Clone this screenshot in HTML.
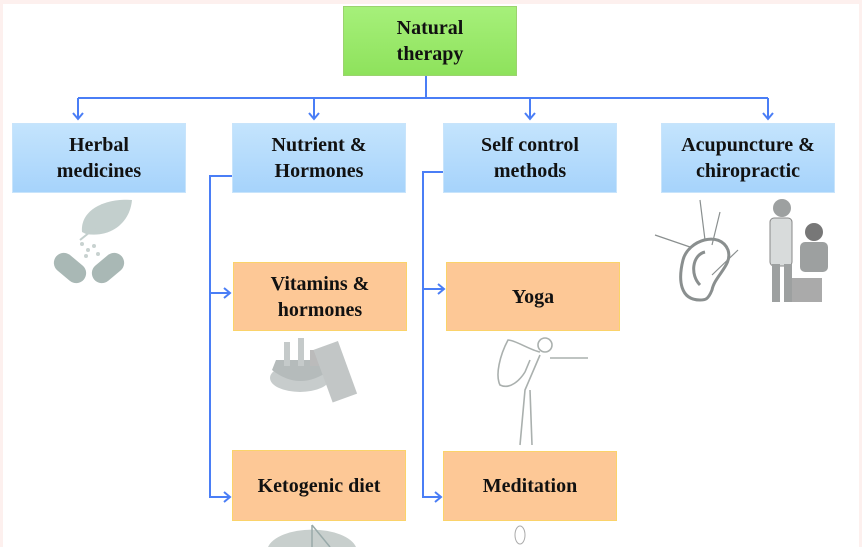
<!DOCTYPE html>
<html><head><meta charset="utf-8"><style>
html,body{margin:0;padding:0;}
body{width:862px;height:547px;position:relative;background:#fdf0ee;overflow:hidden;font-family:"Liberation Serif",serif;}
.inner{position:absolute;left:3px;top:4px;width:856px;height:543px;background:#fff;}
.box{position:absolute;display:flex;align-items:center;justify-content:center;text-align:center;font-weight:bold;font-size:20px;line-height:26px;color:#111;box-sizing:border-box;}
.blue{background:linear-gradient(#c4e4fd,#a6d3fb);border:1px solid #c8e4fb;}
.org{background:#fdc896;border:1.5px solid #fbd36a;}
.grn{background:linear-gradient(#a6f07a,#8ee25c);border:1px solid #9bd36e;}
svg{position:absolute;left:0;top:0;overflow:hidden;}
</style></head><body>
<div class="inner"></div>
<svg width="862" height="547" viewBox="0 0 862 547">
<g stroke="#4a7ef6" stroke-width="2" fill="none">
<path d="M426 76V98M78 98H768"/>
<path d="M78 98V119M314 98V119M530 98V119M768 98V119"/>
<path d="M73 113l5 6 5-6M309 113l5 6 5-6M525 113l5 6 5-6M763 113l5 6 5-6"/>
<path d="M232 176H210V497H230M210 293H230"/>
<path d="M224 288l6 5-6 5M224 492l6 5-6 5"/>
<path d="M443 172H423V497H441M423 289H444"/>
<path d="M438 284l6 5-6 5M435 492l6 5-6 5"/>
</g>
<g>
<path d="M82 232 C80 210 105 198 132 200 C130 222 112 238 86 234 Z" fill="#c3cfcd"/>
<path d="M80 240 L95 228" stroke="#c3cfcd" stroke-width="2"/>
<g transform="rotate(40 70 268)"><rect x="52" y="258" width="36" height="20" rx="10" fill="#a9b8b5"/></g>
<g transform="rotate(-40 108 268)"><rect x="90" y="258" width="36" height="20" rx="10" fill="#a9b8b5"/></g>
<g fill="#c8d2d0"><circle cx="82" cy="244" r="2"/><circle cx="88" cy="250" r="2"/><circle cx="94" cy="246" r="2"/><circle cx="86" cy="256" r="2"/><circle cx="98" cy="254" r="2"/></g>
</g>
<g fill="none" stroke="#8a8f8f" stroke-width="3">
<path d="M700 300 C680 300 678 280 683 260 C688 240 720 230 728 250 C733 265 715 275 712 290 C708 300 705 300 700 300"/>
<path d="M700 285 C690 275 692 255 705 252"/>
<path d="M655 235 L690 247M700 200 L705 240M720 212 L712 245M738 250 L712 275" stroke-width="1.2"/>
</g>
<g fill="#9da0a0">
<circle cx="782" cy="208" r="9"/><rect x="770" y="218" width="22" height="48" rx="4" fill="#d8dbdb" stroke="#888"/>
<rect x="772" y="264" width="8" height="38"/><rect x="784" y="264" width="8" height="38"/>
<circle cx="814" cy="232" r="9" fill="#777"/><rect x="800" y="242" width="28" height="30" rx="5"/>
<rect x="792" y="278" width="30" height="24" fill="#aaa"/>
</g>
<g>
<ellipse cx="300" cy="378" rx="30" ry="14" fill="#c7cccc"/>
<path d="M272 370 Q300 392 330 370 L326 360 L276 360Z" fill="#b5bbbb"/>
<rect x="284" y="342" width="6" height="24" fill="#c5caca"/><rect x="298" y="338" width="6" height="28" fill="#c5caca"/><rect x="310" y="350" width="10" height="16" fill="#bbb"/>
<g transform="rotate(-20 340 370)"><rect x="322" y="342" width="26" height="56" fill="#c2c6c6"/></g>
</g>
<g fill="none" stroke="#aab0ae" stroke-width="1.6">
<circle cx="545" cy="345" r="7"/>
<path d="M540 352 C530 350 515 340 508 340 C500 355 495 375 500 385 C510 390 520 380 525 372 M550 358 L588 358 M540 355 L525 390 L520 445 M530 390 L532 445 M525 372 L530 360"/>
</g>
<path d="M268 547 A45 22 0 0 1 356 547 Z" fill="#c8cfcd"/>
<path d="M312 525 L312 547 M312 525 L330 547" stroke="#9aa" stroke-width="1.5"/>
<ellipse cx="520" cy="535" rx="5" ry="9" fill="none" stroke="#aaa"/>
</svg>
<div class="box grn" style="left:343px;top:6px;width:174px;height:70px;">Natural<br>therapy</div>
<div class="box blue" style="left:12px;top:123px;width:174px;height:70px;">Herbal<br>medicines</div>
<div class="box blue" style="left:232px;top:123px;width:174px;height:70px;">Nutrient &amp;<br>Hormones</div>
<div class="box blue" style="left:443px;top:123px;width:174px;height:70px;">Self control<br>methods</div>
<div class="box blue" style="left:661px;top:123px;width:174px;height:70px;">Acupuncture &amp;<br>chiropractic</div>
<div class="box org" style="left:233px;top:262px;width:174px;height:69px;">Vitamins &amp;<br>hormones</div>
<div class="box org" style="left:446px;top:262px;width:174px;height:69px;">Yoga</div>
<div class="box org" style="left:232px;top:450px;width:174px;height:71px;">Ketogenic diet</div>
<div class="box org" style="left:443px;top:451px;width:174px;height:70px;">Meditation</div>
</body></html>
